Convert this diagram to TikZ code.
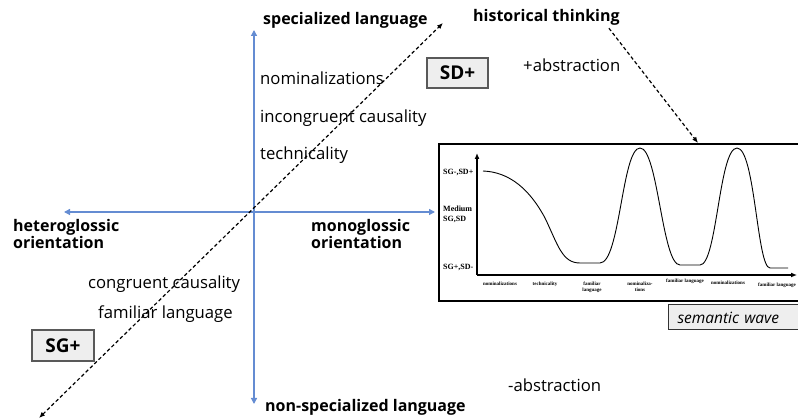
\documentclass[tikz,border=0pt]{standalone}
\usepackage{fontspec}
\setmainfont{Open Sans}
\newfontfamily\chartfont{Liberation Serif}
\usetikzlibrary{arrows.meta}
\definecolor{axisblue}{RGB}{100,140,210}
\definecolor{boxgray}{RGB}{238,238,238}
\tikzset{
  axis/.style={axisblue,line width=1.3pt,-{Triangle[length=6pt,width=6pt]}},
  dasharrow/.style={black,line width=1.2pt,dash pattern=on 3.5pt off 2.5pt,-{Latex[length=6pt,width=5pt]}},
  lbl/.style={font=\fontsize{16.7}{19}\selectfont,anchor=west,inner sep=0pt},
  pole/.style={font=\bfseries\fontsize{16}{17.5}\selectfont,anchor=west,inner sep=0pt,align=left},
  tagbox/.style={draw=black!65,fill=boxgray,line width=1.3pt,font=\bfseries\fontsize{19}{20}\selectfont,inner sep=0pt},
  wlbl/.style={font=\chartfont\bfseries\fontsize{5}{6}\selectfont,inner sep=0pt,align=center},
  ylbl/.style={font=\chartfont\bfseries\fontsize{8}{10}\selectfont,inner sep=0pt,align=left}
}
\begin{document}
\begin{tikzpicture}[x=1pt,y=-1pt]
\useasboundingbox (0,0) rectangle (798,419);
% the two blue axes
\coordinate (o) at (254,212);
\coordinate (up) at (254,30);
\coordinate (down) at (254,404);
\coordinate (left) at (64,212);
\coordinate (right) at (435,212);
\draw[axis] (o)--(up);
\draw[axis] (o)--(down);
\draw[axis] (o)--(left);
\draw[axis] (o)--(right);
% diagonal SG+ / SD+
\coordinate (sgend) at (39,418);
\coordinate (sdend) at (443,23);
\draw[dasharrow,{Latex[length=6pt,width=5pt]}-{Latex[length=6pt,width=5pt]}] (sgend)--(sdend);
% poles
\node[pole] (spec) at (263,20) {specialized language};
\node[pole] (hist) at (473,17) {historical thinking};
\node[pole] (nonspec) at (265,407) {non-specialized language};
\node[pole] (hetero) at (13,234) {heteroglossic\\orientation};
\node[pole] (mono) at (311,234) {monoglossic\\orientation};
% features
\node[lbl] (nom) at (260,78) {nominalizations};
\node[lbl] (incong) at (260,118) {incongruent causality};
\node[lbl] (tech) at (260,155) {technicality};
\node[lbl] (congr) at (88,284) {congruent causality};
\node[lbl] (famil) at (98,314) {familiar language};
\node[lbl] (plusabs) at (523,65) {+abstraction};
\node[lbl] (minabs) at (508,385) {-abstraction};
\node[tagbox,minimum width=61pt,minimum height=30pt] (sdplus) at (457.5,73) {SD+};
\node[tagbox,minimum width=62pt,minimum height=31pt] (sgplus) at (63,345.5) {SG+};
% semantic wave
\node[draw,line width=1.6pt,minimum width=380pt,minimum height=157pt,anchor=north west,inner sep=0pt] (chart) at (438,143) {};
\draw[dasharrow] ([xshift=-11pt,yshift=-3pt]hist.south east)--([xshift=260pt]chart.north west);
\node[draw=black!80,fill=boxgray,line width=1pt,anchor=west,minimum height=25pt,inner xsep=9pt,text width=124pt,align=left,font=\itshape\fontsize{15.5}{18}\selectfont] (wave) at (668,317.5) {semantic wave};
\draw[line width=1.4pt,-{Latex[length=6pt,width=5pt]}] (477,275)--(477,153);
\draw[line width=1.4pt,-{Latex[length=6pt,width=5pt]}] (477,275)--(797,275);
\node[ylbl,anchor=west] (high) at (443,172) {SG-,SD+};
\node[ylbl,anchor=west] (mid) at (443,214) {Medium\\SG,SD};
\node[ylbl,anchor=west] (low) at (443,267) {SG+,SD-};
\draw[line width=0.9pt]
  (483,171) .. controls (510,172) and (530,190) .. (545,218)
  .. controls (558,245) and (562,263) .. (580,263) -- (600,263)
  .. controls (620,263) and (622,148) .. (640,148)
  .. controls (658,148) and (662,265) .. (680,265) -- (700,265)
  .. controls (717,265) and (719,148) .. (737,148)
  .. controls (755,148) and (757,268) .. (770,268) -- (788,268);
\node[wlbl,anchor=north] (w1) at (500,282) {nominalizations};
\node[wlbl,anchor=north] (w2) at (545,282) {technicality};
\node[wlbl,anchor=north] (w3) at (592,282) {familiar\\language};
\node[wlbl,anchor=north] (w4) at (640,282) {nominaliza-\\tions};
\node[wlbl,anchor=north] (w5) at (685,279) {familiar language};
\node[wlbl,anchor=north] (w6) at (728,281) {nominalizations};
\node[wlbl,anchor=north] (w7) at (777,283) {familiar language};
\end{tikzpicture}
\end{document}
